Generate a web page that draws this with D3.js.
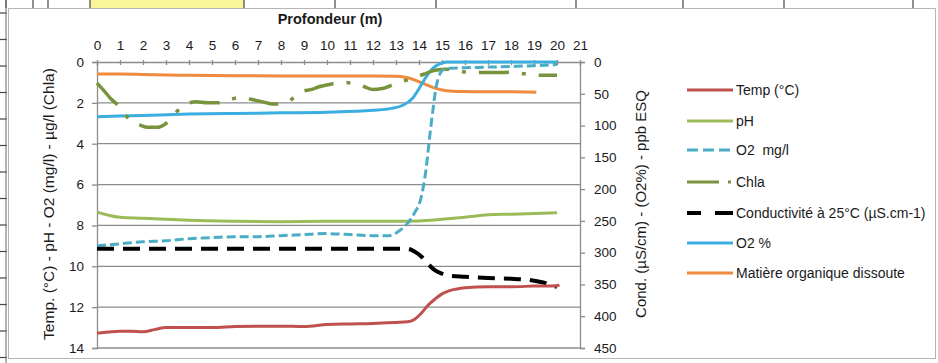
<!DOCTYPE html>
<html>
<head>
<meta charset="utf-8">
<script src="https://cdn.jsdelivr.net/npm/d3@7"></script>
<style>
  html, body { margin: 0; padding: 0; background: #fff; }
  svg { display: block; }
  text { font-family: "Liberation Sans", Arial, sans-serif; fill: #1a1a1a; white-space: pre; }
</style>
</head>
<body>
<svg id="chart" width="938" height="363"></svg>
<script>
// Depth ticks (m)
const depthTicks = d3.range(0, 22);
const leftTicks = [0, 2, 4, 6, 8, 10, 12, 14];
const rightTicks = [0, 50, 100, 150, 200, 250, 300, 350, 400, 450];

// Temperature (°C) – left scale
const tempDepth = [0, 0.5, 1, 1.5, 2, 2.5, 3, 4, 5, 6, 7, 8, 9, 10, 11, 12, 13, 13.5, 13.8, 14.1, 14.4, 14.7, 15.0, 15.3, 15.6, 16, 17, 18, 19, 20, 20.1];
const tempVal = [13.27, 13.22, 13.18, 13.18, 13.2, 13.1, 13.0, 13.0, 13.0, 12.95, 12.93, 12.93, 12.95, 12.85, 12.82, 12.8, 12.75, 12.72, 12.6, 12.3, 11.9, 11.6, 11.35, 11.2, 11.12, 11.05, 11.0, 11.0, 10.97, 10.95, 10.9];

// pH – left scale
const phDepth = [0, 0.5, 1, 2, 3, 4, 6, 8, 10, 12, 13, 14, 15, 16, 17, 18, 19, 20];
const phVal = [7.35, 7.5, 7.6, 7.65, 7.7, 7.75, 7.8, 7.82, 7.8, 7.8, 7.8, 7.78, 7.7, 7.6, 7.48, 7.45, 7.42, 7.38];

// Dissolved oxygen (mg/l) – left scale
const o2mgDepth = [0, 1, 2, 3, 4, 5, 6, 7, 8, 9, 10, 11, 12, 12.7, 13.1, 13.5, 13.8, 14.1, 14.3, 14.45, 14.6, 14.75, 14.9, 15.1, 15.4, 16, 17, 18, 19, 20];
const o2mgVal = [9.0, 8.9, 8.8, 8.75, 8.65, 8.6, 8.55, 8.55, 8.5, 8.45, 8.4, 8.45, 8.5, 8.5, 8.3, 7.9, 7.4, 6.6, 5.3, 3.8, 2.4, 1.2, 0.6, 0.35, 0.3, 0.28, 0.25, 0.22, 0.18, 0.12];

// Chlorophyll a (µg/l) – left scale
const chlaDepth = [0, 0.3, 0.6, 0.9, 1.4, 1.9, 2.2, 2.6, 3.0, 3.4, 3.9, 4.3, 4.8, 5.3, 5.6, 6.2, 6.8, 7.2, 7.6, 8.0, 8.3, 8.6, 8.9, 9.3, 9.7, 10.1, 10.6, 11.2, 11.6, 12.0, 12.4, 13.0, 13.7, 14.2, 14.7, 15.2, 15.6, 16.1, 17.0, 17.4, 18.0, 18.7, 19.3, 20.0];
const chlaVal = [1.03, 1.4, 1.8, 2.1, 2.8, 3.1, 3.2, 3.2, 3.0, 2.5, 2.05, 1.95, 2.0, 2.0, 1.9, 1.75, 1.85, 1.95, 2.05, 2.05, 1.95, 1.7, 1.45, 1.35, 1.2, 1.1, 1.0, 1.05, 1.2, 1.35, 1.3, 1.05, 0.8, 0.6, 0.4, 0.35, 0.4, 0.5, 0.52, 0.52, 0.5, 0.6, 0.65, 0.65];

// Conductivity at 25 °C (µS/cm) – right scale
const condDepth = [0, 2, 4, 6, 8, 10, 12, 13.5, 13.8, 14.1, 14.4, 14.7, 15.0, 15.3, 16, 17, 18, 18.8, 19.4, 20];
const condVal = [294, 294, 294, 294, 294, 294, 294, 294, 298, 306, 318, 328, 333, 336, 338, 340, 341, 343, 347, 354];

// Oxygen saturation (%) – right scale
const o2pctDepth = [0, 2, 4, 6, 8, 10, 12, 12.8, 13.3, 13.7, 14.0, 14.3, 14.6, 14.9, 15.2, 16, 18, 20];
const o2pctVal = [86, 84, 82, 81, 80, 79, 76, 73, 68, 58, 42, 24, 10, 3, 0, 0, 0, 0];

// Dissolved organic matter (ppb ESQ) – right scale
const domDepth = [0, 1, 2, 3, 4, 6, 8, 10, 12, 13, 13.4, 13.8, 14.2, 14.6, 15.0, 15.5, 16, 17, 18, 19.1];
const domVal = [19, 19, 19.5, 20.5, 21, 21.5, 22, 22, 22, 22.5, 24, 28, 34, 40, 44, 46, 46.5, 47, 47, 47.5];

const svg = d3.select("#chart");
const W = 938, H = 363;
const FONT = "'Liberation Sans', Arial, sans-serif";

// ---- surrounding worksheet cells ----
const sheet = svg.append("g");
sheet.append("rect").attr("x", 90).attr("y", 0).attr("width", 154).attr("height", 8).attr("fill", "#fbf59a");
[6, 33, 48, 90, 244, 335, 436, 576, 683, 784, 913].forEach(xx => {
  sheet.append("line").attr("x1", xx).attr("x2", xx).attr("y1", 0).attr("y2", 8)
    .attr("stroke", "#444").attr("stroke-width", 1.2);
});
d3.range(13, 363, 26.5).forEach(yy => {
  sheet.append("line").attr("x1", 0).attr("x2", 7).attr("y1", yy).attr("y2", yy)
    .attr("stroke", "#444").attr("stroke-width", 1.2);
});
sheet.append("line").attr("x1", 6).attr("x2", 6).attr("y1", 0).attr("y2", H).attr("stroke", "#666");

// chart area
svg.append("rect").attr("x", 8.5).attr("y", 8.5).attr("width", 927).attr("height", 350)
  .attr("fill", "#fff").attr("stroke", "#b5b5b5").attr("stroke-width", 1);

// ---- scales ----
const x = d3.scaleLinear().domain([0, 21]).range([97, 580]);
const yL = d3.scaleLinear().domain([0, 14]).range([62, 348]);
const yR = d3.scaleLinear().domain([0, 450]).range([62, 348]);

// gridlines
svg.append("g").selectAll("line").data(leftTicks.slice(1, -1)).join("line")
  .attr("x1", x(0)).attr("x2", x(21))
  .attr("y1", d => yL(d)).attr("y2", d => yL(d))
  .attr("stroke", "#8c8c8c").attr("stroke-width", 1.3);

// axes
const axisTop = svg.append("g").attr("transform", `translate(0,${yL(0)})`)
  .call(d3.axisTop(x).tickValues(depthTicks).tickSize(-4).tickPadding(12));
const axisLeft = svg.append("g").attr("transform", `translate(${x(0)},0)`)
  .call(d3.axisLeft(yL).tickValues(leftTicks).tickSize(5).tickPadding(8));
const axisRight = svg.append("g").attr("transform", `translate(${x(21)},0)`)
  .call(d3.axisRight(yR).tickValues(rightTicks).tickSize(5).tickPadding(9));
svg.append("line").attr("x1", x(0)).attr("x2", x(21)).attr("y1", yL(14)).attr("y2", yL(14))
  .attr("stroke", "#8c8c8c").attr("stroke-width", 1.3);

[axisTop, axisLeft, axisRight].forEach(g => {
  g.select(".domain").attr("stroke", "#8c8c8c").attr("stroke-width", 1.3);
  g.selectAll(".tick line").attr("stroke", "#8c8c8c").attr("stroke-width", 1.3);
  g.selectAll("text").attr("font-size", 13.5).attr("fill", "#1a1a1a").style("font-family", FONT);
});
// top ticks cross the axis line
axisTop.selectAll(".tick line").attr("y1", -2).attr("y2", 3);

// axis titles
svg.append("text").attr("x", 330).attr("y", 24).attr("text-anchor", "middle")
  .attr("font-size", 14.5).attr("font-weight", "bold").text("Profondeur (m)");
svg.append("text").attr("transform", "translate(54,204) rotate(-90)")
  .attr("text-anchor", "middle").attr("font-size", 15.5)
  .text("Temp. (°C) - pH - O2 (mg/l) - µg/l (Chla)");
svg.append("text").attr("transform", "translate(646,204) rotate(-90)")
  .attr("text-anchor", "middle").attr("font-size", 15)
  .text("Cond. (µS/cm) - (O2%) - ppb ESQ");

// ---- series ----
const series = [
  { name: "Temp (°C)", depth: tempDepth, val: tempVal, y: yL, color: "#c0504d", width: 3, dash: null },
  { name: "pH", depth: phDepth, val: phVal, y: yL, color: "#9bbb59", width: 3, dash: null },
  { name: "O2  mg/l", depth: o2mgDepth, val: o2mgVal, y: yL, color: "#4bacc6", width: 3, dash: "9,4" },
  { name: "Chla", depth: chlaDepth, val: chlaVal, y: yL, color: "#77933c", width: 3.5, dash: "30,13,4,13" },
  { name: "Conductivité à 25°C (µS.cm-1)", depth: condDepth, val: condVal, y: yR, color: "#000000", width: 4, dash: "17,9" },
  { name: "O2 %", depth: o2pctDepth, val: o2pctVal, y: yR, color: "#3aaee0", width: 3, dash: null },
  { name: "Matière organique dissoute", depth: domDepth, val: domVal, y: yR, color: "#f08a3c", width: 3, dash: null }
];

const drawOrder = [6, 5, 3, 1, 2, 4, 0];
drawOrder.forEach(i => {
  const s = series[i];
  const pts = s.depth.map((d, k) => [d, s.val[k]]);
  const line = d3.line().x(p => x(p[0])).y(p => s.y(p[1])).curve(d3.curveMonotoneX);
  svg.append("path").datum(pts).attr("d", line)
    .attr("fill", "none").attr("stroke", s.color).attr("stroke-width", s.width)
    .attr("stroke-dasharray", s.dash).attr("stroke-linejoin", "round");
});

// ---- legend ----
const legendY = [90, 121, 150, 182, 213, 243, 273];
const leg = svg.append("g");
series.forEach((s, i) => {
  const yy = legendY[i];
  const g = leg.append("g");
  if (s.name === "Chla") {
    g.append("line").attr("x1", 687).attr("x2", 719).attr("y1", yy).attr("y2", yy)
      .attr("stroke", s.color).attr("stroke-width", 3);
    g.append("line").attr("x1", 728).attr("x2", 731).attr("y1", yy).attr("y2", yy)
      .attr("stroke", s.color).attr("stroke-width", 3);
  } else if (s.name.startsWith("Conductivit")) {
    g.append("line").attr("x1", 687).attr("x2", 701).attr("y1", yy).attr("y2", yy)
      .attr("stroke", s.color).attr("stroke-width", 4);
    g.append("line").attr("x1", 715).attr("x2", 733).attr("y1", yy).attr("y2", yy)
      .attr("stroke", s.color).attr("stroke-width", 4);
  } else {
    g.append("line").attr("x1", 687).attr("x2", 733).attr("y1", yy).attr("y2", yy)
      .attr("stroke", s.color).attr("stroke-width", 3)
      .attr("stroke-dasharray", s.dash ? "11,5" : null);
  }
  g.append("text").attr("x", 736).attr("y", yy).attr("dy", "0.35em")
    .attr("font-size", 14).attr("fill", "#262626").text(s.name);
});
</script>
</body>
</html>
